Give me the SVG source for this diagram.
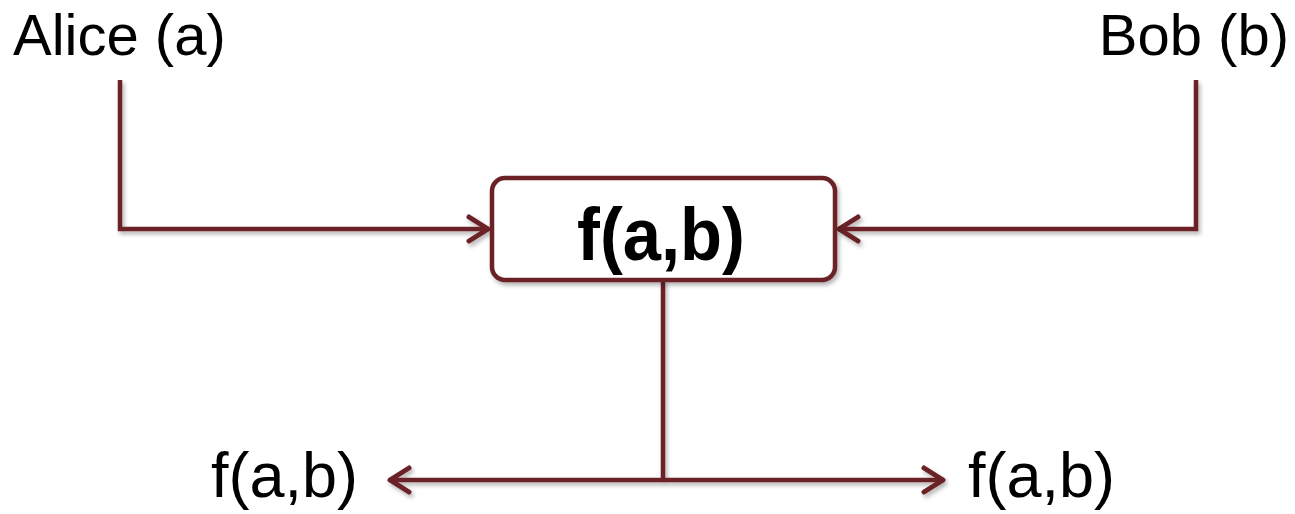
<svg xmlns="http://www.w3.org/2000/svg" width="1295" height="514" viewBox="0 0 1295 514">
  <defs>
    <filter id="shadow" x="-10%" y="-10%" width="130%" height="130%">
      <feDropShadow dx="2" dy="3" stdDeviation="2" flood-color="#000" flood-opacity="0.3"/>
    </filter>
    <marker id="arrow" markerUnits="userSpaceOnUse" markerWidth="40" markerHeight="40" refX="0" refY="0" orient="auto" overflow="visible">
      <path d="M-20,-12 L-1,0 L-20,12" fill="none" stroke="#6b2426" stroke-width="5" stroke-linecap="round" stroke-linejoin="round"/>
    </marker>
    <style>
      .lbl { font-family: "Liberation Sans", Arial, sans-serif; fill: #000; }
      .conn { fill: none; stroke: #6b2426; stroke-width: 4.5; stroke-linejoin: miter; }
      .box { fill: #fff; stroke: #6b2426; stroke-width: 4.5; }
    </style>
  </defs>
  <rect width="1295" height="514" fill="#fff"/>

  <g id="connectors" filter="url(#shadow)">
    <path class="conn" d="M120,80 L120,229 L489,229" marker-end="url(#arrow)"/>
    <path class="conn" d="M1196,80 L1196,229 L838,229" marker-end="url(#arrow)"/>
    <path class="conn" d="M663,280 L663,480"/>
    <path class="conn" d="M663,480 L389,480" marker-end="url(#arrow)"/>
    <path class="conn" d="M663,480 L944,480" marker-end="url(#arrow)"/>
  </g>

  <g id="alice">
    <text class="lbl" x="13" y="55" font-size="58">Alice (a)</text>
  </g>
  <g id="bob">
    <text class="lbl" x="1289" y="55" font-size="58" text-anchor="end">Bob (b)</text>
  </g>

  <g id="function">
    <rect class="box" x="492" y="178" width="343" height="102" rx="13" ry="13" filter="url(#shadow)"/>
    <text class="lbl" x="577" y="260" font-size="74" font-weight="bold" textLength="168" lengthAdjust="spacingAndGlyphs">f(a,b)</text>
  </g>

  <g id="output-left">
    <text class="lbl" x="211" y="497" font-size="63">f(a,b)</text>
  </g>
  <g id="output-right">
    <text class="lbl" x="968" y="497" font-size="63">f(a,b)</text>
  </g>
</svg>
